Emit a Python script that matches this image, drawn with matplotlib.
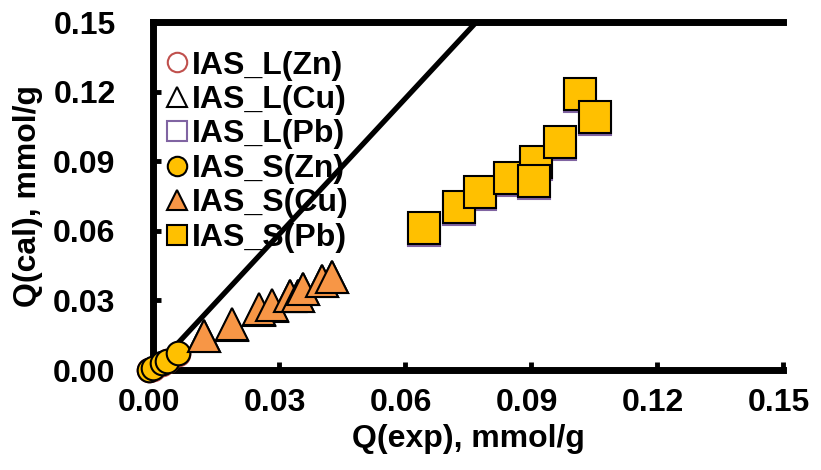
import matplotlib
matplotlib.use("Agg")
import matplotlib.pyplot as plt
import matplotlib.transforms as mtransforms
from matplotlib.lines import Line2D

plt.rcParams['font.family'] = ['Liberation Sans', 'DejaVu Sans']
plt.rcParams['font.weight'] = 'bold'

# Zn
zn_exp = [-0.0010, 0.0001, 0.0022, 0.0033, 0.0060]
zn_S = [0.0000, 0.0007, 0.0029, 0.0039, 0.0072]
zn_L = [0.0000, 0.0006, 0.0028, 0.0038, 0.0071]
# Cu
cu_exp = [0.0121, 0.0187, 0.0253, 0.0283, 0.0325, 0.0346, 0.0356, 0.0402, 0.0425]
cu_S = [0.0148, 0.0198, 0.0262, 0.0279, 0.0319, 0.0320, 0.0350, 0.0384, 0.0401]
cu_L = [0.0146, 0.0196, 0.0260, 0.0277, 0.0317, 0.0318, 0.0348, 0.0382, 0.0399]
# Pb
pb_exp = [0.0645, 0.0728, 0.0779, 0.0849, 0.0913, 0.0908, 0.0970, 0.1017, 0.1053]
pb_S = [0.0611, 0.0701, 0.0767, 0.0828, 0.0895, 0.0816, 0.0984, 0.1191, 0.1091]
pb_L = [0.0603, 0.0693, 0.0759, 0.0820, 0.0887, 0.0808, 0.0976, 0.1183, 0.1083]

line_x = [0.0, 0.077]
line_y = [0.0, 0.15]

ticks = [0.00, 0.03, 0.06, 0.09, 0.12, 0.15]
tick_labels = ["0.00", "0.03", "0.06", "0.09", "0.12", "0.15"]

FS = 23

fig = plt.figure(figsize=(8.21, 4.70), dpi=100)
ax = fig.add_axes([153/821, 1-370/470, 630/821, 348/470])

ax.plot(line_x, line_y, color='black', lw=3.8, zorder=2, solid_capstyle='butt')

kw = dict(linestyle='none', clip_on=False)
ax.plot(zn_exp, zn_L, marker='o', ms=17, mfc='none', mec='#C0504D', mew=1.5, zorder=3, **kw)
ax.plot(cu_exp, cu_L, marker='^', ms=23, mfc='none', mec='black', mew=1.5, zorder=3, **kw)
ax.plot(pb_exp, pb_L, marker='s', ms=23, mfc='white', mec='#8064A2', mew=1.5, zorder=3, **kw)
ax.plot(zn_exp, zn_S, marker='o', ms=17, mfc='#FFC000', mec='black', mew=1.5, zorder=4, **kw)
ax.plot(cu_exp, cu_S, marker='^', ms=23, mfc='#F79646', mec='black', mew=1.5, zorder=4, **kw)
ax.plot(pb_exp, pb_S, marker='s', ms=23, mfc='#FFC000', mec='black', mew=1.5, zorder=4, **kw)

ax.set_xlim(0, 0.15)
ax.set_ylim(0, 0.15)
ax.set_xticks(ticks)
ax.set_xticklabels(tick_labels)
ax.set_yticks(ticks)
ax.set_yticklabels(tick_labels)
ax.tick_params(direction='in', length=6, width=3.5, labelsize=FS)
ax.tick_params(axis='x', pad=13, top=False)
ax.tick_params(axis='y', pad=27, right=False)
for lab in ax.get_xticklabels() + ax.get_yticklabels():
    lab.set_fontweight('bold')
shift = mtransforms.ScaledTranslation(-4/100, 0, fig.dpi_scale_trans)
for lab in ax.get_xticklabels():
    lab.set_transform(lab.get_transform() + shift)
for s in ['left', 'bottom', 'top']:
    ax.spines[s].set_linewidth(5)
ax.spines['right'].set_visible(False)

ax.set_xlabel("Q(exp), mmol/g", fontsize=FS, fontweight='bold', labelpad=4)
ax.set_ylabel("Q(cal), mmol/g", fontsize=FS, fontweight='bold', labelpad=7)

handles = [
    Line2D([], [], marker='o', ls='none', ms=14, mfc='none', mec='#C0504D', mew=1.5),
    Line2D([], [], marker='^', ls='none', ms=15, mfc='none', mec='black', mew=1.5),
    Line2D([], [], marker='s', ls='none', ms=14, mfc='none', mec='#8064A2', mew=1.5),
    Line2D([], [], marker='o', ls='none', ms=14, mfc='#FFC000', mec='black', mew=1.5),
    Line2D([], [], marker='^', ls='none', ms=15, mfc='#F79646', mec='black', mew=1.5),
    Line2D([], [], marker='s', ls='none', ms=14, mfc='#FFC000', mec='black', mew=1.5),
]
labels = ["IAS_L(Zn)", "IAS_L(Cu)", "IAS_L(Pb)", "IAS_S(Zn)", "IAS_S(Cu)", "IAS_S(Pb)"]
leg = ax.legend(handles, labels, loc='upper left', bbox_to_anchor=(0.0175, 0.918),
                frameon=False, handlelength=0.8, handletextpad=0.08,
                labelspacing=0.14, borderaxespad=0.0, borderpad=0.0,
                prop={'size': FS, 'weight': 'bold'})

fig.savefig("out.png", dpi=100)
